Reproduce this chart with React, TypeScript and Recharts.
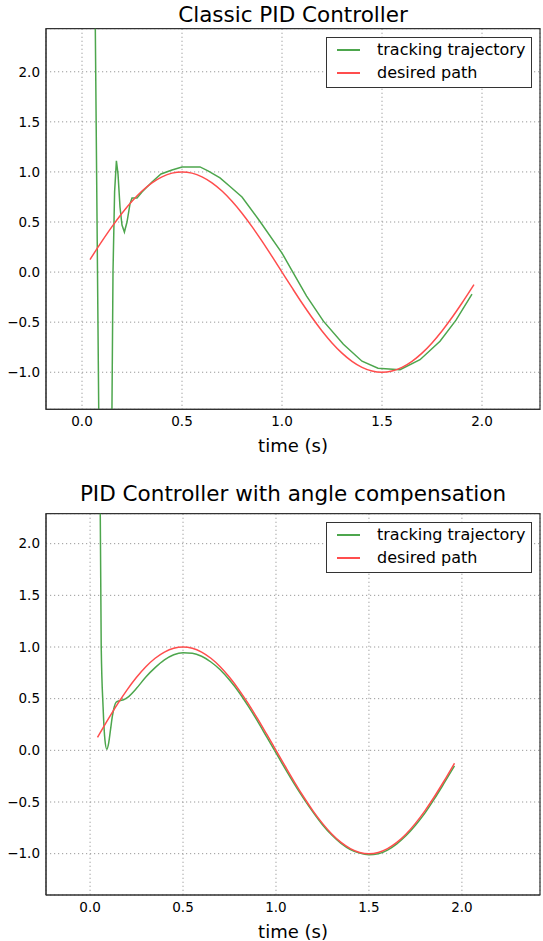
import React from "react";
import { LineChart, Line, XAxis, YAxis, CartesianGrid, Legend, ReferenceArea, Label } from "recharts";

const FONT = "'DejaVu Sans', 'Bitstream Vera Sans', sans-serif";
const GREEN = "#4da64d";
const RED = "#ff4d4d";

// desired path (same in both plots)
const desiredTime = [0.04, 0.1, 0.15, 0.2, 0.25, 0.3, 0.35, 0.4, 0.45, 0.5, 0.55, 0.6, 0.65, 0.7, 0.75, 0.8, 0.85, 0.9, 0.95, 1.0, 1.05, 1.1, 1.15, 1.2, 1.25, 1.3, 1.35, 1.4, 1.45, 1.5, 1.55, 1.6, 1.65, 1.7, 1.75, 1.8, 1.85, 1.9, 1.96];
const desiredValue = [0.125, 0.309, 0.454, 0.588, 0.707, 0.809, 0.891, 0.951, 0.988, 1.0, 0.988, 0.951, 0.891, 0.809, 0.707, 0.588, 0.454, 0.309, 0.156, 0.0, -0.156, -0.309, -0.454, -0.588, -0.707, -0.809, -0.891, -0.951, -0.988, -1.0, -0.988, -0.951, -0.891, -0.809, -0.707, -0.588, -0.454, -0.309, -0.125];

// classic PID tracking trajectory
const pidTime = [0.055, 0.1, 0.13, 0.155, 0.163, 0.172, 0.18, 0.19, 0.2, 0.212, 0.225, 0.24, 0.25, 0.275, 0.3, 0.32, 0.35, 0.395, 0.45, 0.5, 0.59, 0.63, 0.69, 0.74, 0.8, 0.89, 1.0, 1.057, 1.123, 1.207, 1.307, 1.4, 1.48, 1.59, 1.69, 1.79, 1.87, 1.95];
const pidValue = [5.0, -5.0, -6.5, 0.0, 0.8, 1.11, 0.98, 0.65, 0.47, 0.4, 0.5, 0.68, 0.74, 0.74, 0.8, 0.84, 0.9, 0.98, 1.02, 1.05, 1.05, 1.01, 0.94, 0.855, 0.75, 0.505, 0.19, -0.01, -0.24, -0.49, -0.72, -0.89, -0.96, -0.975, -0.875, -0.69, -0.48, -0.22];

// PID with angle compensation tracking trajectory
const compTime = [0.04, 0.06, 0.07, 0.08, 0.09, 0.1, 0.11, 0.12, 0.13, 0.14, 0.16, 0.18, 0.2, 0.25, 0.3, 0.35, 0.4, 0.45, 0.5, 0.55, 0.6, 0.65, 0.7, 0.75, 0.8, 0.85, 0.9, 0.95, 1.0, 1.05, 1.1, 1.15, 1.2, 1.25, 1.3, 1.35, 1.4, 1.45, 1.5, 1.55, 1.6, 1.65, 1.7, 1.75, 1.8, 1.85, 1.9, 1.96];
const compValue = [6.0, 1.0, 0.42, 0.1, 0.01, 0.07, 0.2, 0.33, 0.42, 0.465, 0.48, 0.49, 0.51, 0.6, 0.71, 0.8, 0.875, 0.925, 0.945, 0.94, 0.91, 0.855, 0.78, 0.68, 0.565, 0.43, 0.285, 0.13, -0.025, -0.18, -0.33, -0.47, -0.6, -0.72, -0.82, -0.9, -0.96, -0.995, -1.01, -1.0, -0.965, -0.905, -0.825, -0.725, -0.61, -0.475, -0.33, -0.15];

const xTicks = [0, 0.5, 1.0, 1.5, 2.0];
const yTicks = [-1.0, -0.5, 0, 0.5, 1.0, 1.5, 2.0];

const legendLabels = ["tracking trajectory", "desired path"];

const zip = (t: number[], v: number[]) => t.map((tt, i) => ({ t: tt, v: v[i] }));
const desiredData = zip(desiredTime, desiredValue);
const pidData = zip(pidTime, pidValue);
const compData = zip(compTime, compValue);

const fmt = (v: number) => (v < 0 ? "\u2212" + Math.abs(v).toFixed(1) : v.toFixed(1));

const LegendBox = () => (
  <div
    style={{
      position: "relative",
      width: 206,
      height: 51,
      border: "1px solid #333",
      boxSizing: "border-box",
      background: "#fff",
      fontFamily: FONT,
      fontSize: 16,
      color: "#000",
    }}
  >
    {legendLabels.map((lab, i) => (
      <React.Fragment key={lab}>
        <div
          style={{
            position: "absolute",
            left: 10,
            top: 11 + i * 23,
            width: 23,
            height: 2,
            background: i === 0 ? GREEN : RED,
          }}
        />
        <div
          style={{
            position: "absolute",
            left: 50,
            top: 1 + i * 23,
            lineHeight: "22px",
            whiteSpace: "nowrap",
          }}
        >
          {lab}
        </div>
      </React.Fragment>
    ))}
  </div>
);

type PanelProps = {
  height: number;
  marginTop: number;
  marginBottom: number;
  xDomain: [number, number];
  yDomain: [number, number];
  track: { t: number; v: number }[];
  trackCurve: "linear" | "monotone";
  legendTop: number;
};

const Panel = ({ height, marginTop, marginBottom, xDomain, yDomain, track, trackCurve, legendTop }: PanelProps) => (
  <LineChart width={543} height={height} margin={{ top: marginTop, right: 3, left: 0, bottom: marginBottom }}>
    <CartesianGrid stroke="#999" strokeDasharray="1.2 2.8" strokeWidth={1} />
    <XAxis
      dataKey="t"
      type="number"
      domain={xDomain}
      allowDataOverflow
      ticks={xTicks}
      tickFormatter={fmt}
      height={46}
      tickSize={0}
      tickMargin={7}
      axisLine={{ stroke: "#333" }}
      tick={{ fill: "#000", fontSize: 13.5, fontFamily: FONT }}
    >
      <Label value="time (s)" position="insideBottom" offset={3} style={{ fontSize: 18, fontFamily: FONT, fill: "#000" }} />
    </XAxis>
    <YAxis
      type="number"
      domain={yDomain}
      allowDataOverflow
      ticks={yTicks}
      tickFormatter={fmt}
      width={46}
      tickSize={0}
      tickMargin={6}
      axisLine={{ stroke: "#333" }}
      tick={{ fill: "#000", fontSize: 13.5, fontFamily: FONT }}
    />
    <ReferenceArea
      x1={xDomain[0]}
      x2={xDomain[1]}
      y1={yDomain[0]}
      y2={yDomain[1]}
      fill="none"
      stroke="#333"
      strokeWidth={1.2}
      strokeOpacity={1}
      ifOverflow="visible"
    />
    <Line
      data={track}
      dataKey="v"
      name="tracking trajectory"
      type={trackCurve}
      stroke={GREEN}
      strokeWidth={1.5}
      dot={false}
      isAnimationActive={false}
    />
    <Line
      data={desiredData}
      dataKey="v"
      name="desired path"
      type="monotone"
      stroke={RED}
      strokeWidth={1.5}
      dot={false}
      isAnimationActive={false}
    />
    <Legend
      layout="horizontal"
      verticalAlign="middle"
      align="center"
      wrapperStyle={{ left: 326, top: legendTop, width: 206, height: 51 }}
      content={() => <LegendBox />}
    />
  </LineChart>
);

const titleStyle: React.CSSProperties = {
  position: "absolute",
  left: 46,
  width: 494,
  textAlign: "center",
  fontFamily: FONT,
  fontSize: 21.5,
  lineHeight: "22px",
  color: "#000",
  whiteSpace: "nowrap",
};

export default function App() {
  return (
    <div style={{ position: "absolute", left: 0, top: 0, width: 543, height: 941, background: "#fff", overflow: "hidden" }}>
      <div style={{ ...titleStyle, top: 4 }}>Classic PID Controller</div>
      <div style={{ position: "absolute", left: 0, top: 0 }}>
        <Panel
          height={470}
          marginTop={28.7}
          marginBottom={14.7}
          xDomain={[-0.18, 2.29]}
          yDomain={[-1.37, 2.43]}
          track={pidData}
          trackCurve="linear"
          legendTop={36.7}
        />
      </div>
      <div style={{ ...titleStyle, top: 483 }}>PID Controller with angle compensation</div>
      <div style={{ position: "absolute", left: 0, top: 470 }}>
        <Panel
          height={471}
          marginTop={43.7}
          marginBottom={0}
          xDomain={[-0.237, 2.42]}
          yDomain={[-1.4, 2.29]}
          track={compData}
          trackCurve="monotone"
          legendTop={51.7}
        />
      </div>
    </div>
  );
}
